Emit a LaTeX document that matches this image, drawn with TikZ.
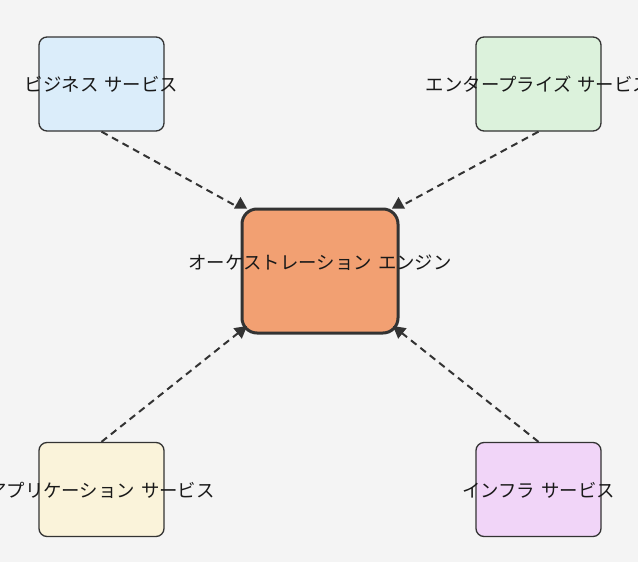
\documentclass[tikz,border=0pt]{standalone}
\usepackage{fontspec}
\newfontfamily\jpfont{Noto Sans CJK JP}
\usetikzlibrary{arrows.meta}
\definecolor{bgc}{HTML}{F4F4F4}
\definecolor{ink}{HTML}{333333}
\definecolor{cblue}{HTML}{DBEDFA}
\definecolor{cgreen}{HTML}{DCF2DC}
\definecolor{cyellow}{HTML}{FAF3DA}
\definecolor{cpurple}{HTML}{F1D5F8}
\definecolor{corange}{HTML}{F2A072}
\newcommand{\jsp}{\hspace{6pt}}
\tikzset{
  svcbox/.style={draw=ink, line width=1.3pt, rounded corners=8pt, minimum width=125pt, minimum height=94pt, inner sep=0pt},
  corebox/.style={draw=ink, line width=3pt, rounded corners=15pt, fill=corange, minimum width=156pt, minimum height=124pt, inner sep=0pt},
  lbl/.style={font=\jpfont\fontsize{18.4pt}{22pt}\selectfont, inner sep=0pt, text=black!90},
  edge/.style={draw=ink, line width=2pt, dash pattern=on 7pt off 5pt},
  tipped/.style={-{Triangle[length=12pt,width=13pt]}},
  headshape/.style={fill=ink, draw=none}
}
\begin{document}
\begin{tikzpicture}[x=1pt,y=-1pt]
\useasboundingbox (0,0) rectangle (638,562);
\fill[bgc] (0,0) rectangle (638,562);

% boxes
\node[svcbox, fill=cblue] (tl) at (101.5,84) {};
\node[svcbox, fill=cgreen] (tr) at (538.5,84) {};
\node[svcbox, fill=cyellow] (bl) at (101.5,489.5) {};
\node[svcbox, fill=cpurple] (br) at (538.5,489.5) {};
\node[corebox] (core) at (320,271) {};

% labels
\node[lbl] (tlt) at (101.5,84) {ビジネス\jsp サービス};
\node[lbl] (trt) at (538.5,84) {エンタープライズ\jsp サービス};
\node[lbl] (blt) at (101.5,490) {アプリケーション\jsp サービス};
\node[lbl] (brt) at (538.5,490) {インフラ\jsp サービス};
\node[lbl] (coret) at (320,263) {オーケストレーション\jsp エンジン};

% connector ends
\coordinate (e1) at (236,206);
\coordinate (e2) at (403,205);
\coordinate (e3) at (247,326);
\coordinate (e4) at (393,326);

\draw[edge] (tl.south) -- (e1);
\draw[edge] (tr.south) -- (e2);
\draw[edge, tipped] (bl.north) -- (e3);
\draw[edge, tipped] (br.north) -- (e4);

% upward heads at top corners
\fill[headshape] (234,208.5) -- (247,208.5) -- (240.5,197) -- cycle;
\fill[headshape] (392,208.5) -- (405,208.5) -- (398.5,197) -- cycle;
\end{tikzpicture}
\end{document}
